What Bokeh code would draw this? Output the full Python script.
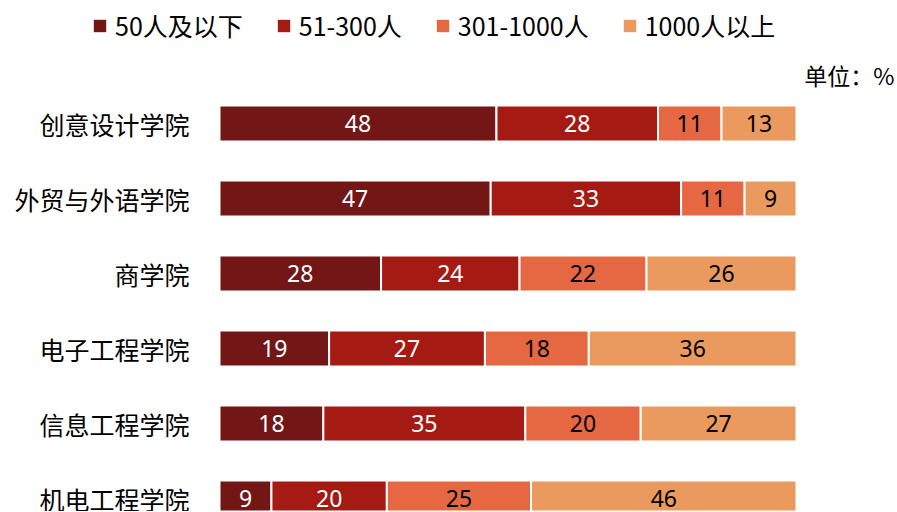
from bokeh.plotting import figure
from bokeh.models import ColumnDataSource, Range1d, Legend, LegendItem, Label
from bokeh.embed import file_html
from bokeh.resources import INLINE
from bokeh.core.properties import value

colleges = ["创意设计学院", "外贸与外语学院", "商学院", "电子工程学院", "信息工程学院", "机电工程学院"]
series_names = ["50人及以下", "51-300人", "301-1000人", "1000人以上"]
s_small = [48, 47, 28, 19, 18, 9]
s_mid = [28, 33, 24, 27, 35, 20]
s_large = [11, 11, 22, 18, 20, 25]
s_huge = [13, 9, 26, 36, 27, 46]
unit_text = "单位：%"

colors = ["#721616", "#A61A14", "#E56842", "#EA9A5E"]
label_colors = ["#FFFFFF", "#FFFFFF", "#000000", "#000000"]

series = [s_small, s_mid, s_large, s_huge]
keys = ["s0", "s1", "s2", "s3"]
idx = list(range(len(colleges)))

data = {"idx": idx}
for k, s in zip(keys, series):
    data[k] = s
src = ColumnDataSource(data)

W, H = 895, 511
ORIGIN = 1          # page offset of the figure
BAR0 = 220          # page x of value 0
px_per_unit = 5.77
x_start = -(BAR0 - ORIGIN) / px_per_unit
x_end = (ORIGIN + W - BAR0) / px_per_unit
row_px = 75.0
first_row = 124.0
y_top = -(first_row - ORIGIN) / row_px
y_bot = (ORIGIN + H - first_row) / row_px

p = figure(width=W, height=H, output_backend="svg", toolbar_location=None,
           x_range=Range1d(x_start, x_end), y_range=Range1d(y_bot, y_top),
           min_border_left=0, min_border_right=0, min_border_top=0, min_border_bottom=0)
p.outline_line_color = None
p.xaxis.visible = False
p.yaxis.visible = False
p.xgrid.visible = False
p.ygrid.visible = False
p.background_fill_color = "white"
p.border_fill_color = "white"

p.hbar_stack(keys, y="idx", height=0.48, color=colors, line_color="white", line_width=2, source=src)

# labels in segments
lx, ly, lt, lc = [], [], [], []
centers = [[] for _ in series]
for i in idx:
    cum = 0
    for j, s in enumerate(series):
        v = s[i]
        lx.append(cum + v / 2)
        centers[j].append(cum + v / 2)
        ly.append(i)
        lt.append(str(v))
        lc.append(label_colors[j])
        cum += v
lsrc = ColumnDataSource(dict(x=lx, y=ly, t=lt, c=lc))
p.text(x="x", y="y", text="t", text_color="c", source=lsrc, text_align="center",
       text_baseline="middle", text_font=value("Noto Sans"), text_font_size="23px")

# category labels
csrc = ColumnDataSource(dict(x=[-30 / px_per_unit] * len(idx), y=idx, t=colleges))
p.text(x="x", y="y", text="t", source=csrc, text_align="right", text_baseline="middle",
       text_font=value("Noto Sans CJK SC"), text_font_size="25px", text_color="#000000")

# legend with square markers (hidden proxy renderers)
items = []
for j, (name, col) in enumerate(zip(series_names, colors)):
    r = p.scatter(x=centers[j], y=idx, marker="square", size=10, fill_color=col, line_color=None)
    r.visible = False
    items.append(LegendItem(label=name, renderers=[r]))
legend = Legend(items=items, orientation="horizontal", location=(84, 468),
                padding=0, margin=0, spacing=25, glyph_width=31, glyph_height=31,
                label_standoff=-2, label_text_font="Noto Sans CJK SC", label_text_font_size="25px",
                label_text_color="#000000", background_fill_alpha=0, border_line_color=None,
                inactive_fill_alpha=0, click_policy="none")
p.add_layout(legend, "center")

p.add_layout(Label(x=(895 - BAR0) / px_per_unit, y=(75 - first_row) / row_px, text=unit_text,
                   text_align="right", text_baseline="middle", text_font="Noto Sans CJK SC",
                   text_font_size="23px", text_color="#000000"))

open("out.html", "w").write(file_html(p, INLINE))
